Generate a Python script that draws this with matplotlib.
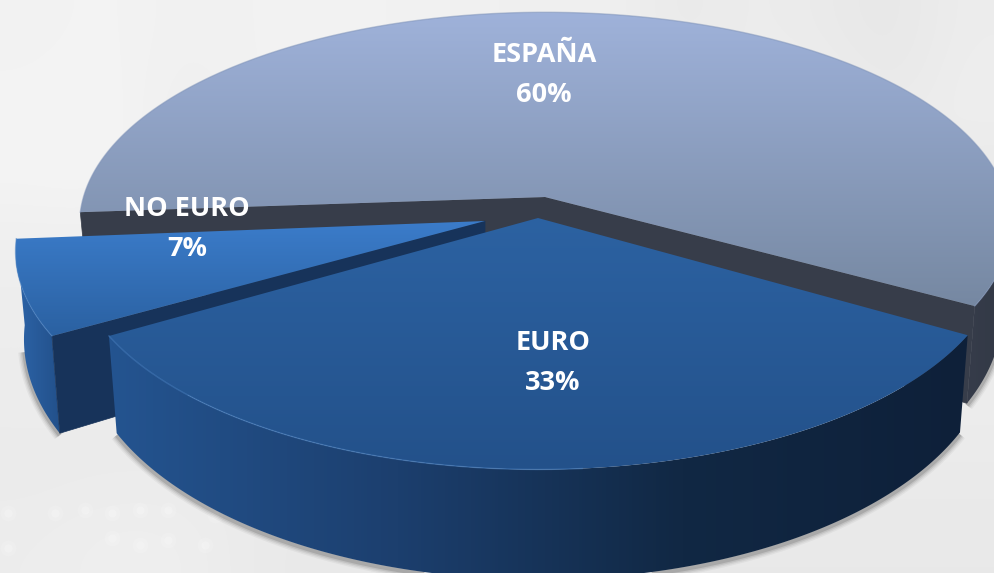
import numpy as np
import matplotlib
matplotlib.use('Agg')
import matplotlib.pyplot as plt
from matplotlib.colors import LinearSegmentedColormap
from matplotlib.patches import Polygon

# Values, in drawing order clockwise
labels = ['EURO', 'NO EURO', 'ESPAÑA']
values = [33, 7, 60]

# Slice apex in pixels (the pie is exploded), the rim centre can sit a bit off the apex
apex_x = [538, 485, 545]
apex_y = [218, 221, 197]
rim_dx = [0, -4, 0]
rim_dy = [0, -3, -5]
rim_squash = [1, 1, 0.973]
label_x = [553, 187, 544]
label_y = [363.5, 229.5, 74.5]

top_colors = [['#2c62a2', '#23518a'], ['#3b7cca', '#2a60a0'], ['#9fb2da', '#74869f']]
top_spans = [[218, 470], [221, 340], [12, 320]]
side_colors = [['#245490', '#1c3f6e', '#112844', '#0e2039'], ['#2d64a8', '#22508a'], ['#363c4a', '#313845']]
wall_colors = [None, '#17335a', '#373d4a']
rim_colors = ['#4a82c4', '#4a82c4', '#7f93b8']

# Washed out photo behind the chart, grey levels on a coarse grid
photo = np.array([
    [241, 243, 240, 241, 242, 241, 240, 238, 240, 232, 236, 234, 230, 236],
    [243, 244, 238, 241, 242, 241, 240, 240, 240, 238, 234, 240, 232, 238],
    [243, 244, 238, 240, 241, 241, 240, 240, 240, 240, 236, 232, 244, 232],
    [238, 238, 238, 240, 240, 240, 240, 240, 240, 240, 238, 236, 240, 236],
    [236, 236, 238, 238, 238, 238, 238, 238, 238, 238, 236, 236, 236, 236],
    [236, 236, 236, 236, 236, 236, 236, 236, 236, 236, 236, 236, 236, 236],
    [234, 234, 234, 234, 234, 234, 234, 234, 234, 234, 234, 234, 234, 234],
    [236, 238, 238, 234, 232, 232, 232, 232, 232, 232, 232, 232, 232, 232],
]) / 255
speck_x = [8, 55, 85, 112, 140, 168, 8, 112, 140, 168, 205, 215]
speck_y = [513, 513, 510, 513, 510, 510, 548, 538, 545, 540, 545, 515]

START_ANGLE = 30.5
RADIUS = 460
SQUASH = 213
TILT = 0.153


def project(theta, i):
    # Disc angle (degrees clockwise from the right) to pixel position, with perspective
    u = np.cos(np.radians(theta))
    v = np.sin(np.radians(theta))
    w = 1 - TILT * v
    return (apex_x[i] + rim_dx[i] + RADIUS * u / w,
            apex_y[i] + rim_dy[i] + SQUASH * rim_squash[i] * v / w)


def drop(x, y, v_like, ax0):
    # Lower rim of the slab, it gets a little narrower and deeper towards the front
    return ax0 + (x - ax0) * 0.982, y + 84 + 26 * v_like


def gradientFill(ax, points, colors, span, horizontal=False):
    cmap = LinearSegmentedColormap.from_list('g', colors)
    ramp = np.linspace(0, 1, 256)
    if horizontal:
        img = ax.imshow(ramp[np.newaxis, :], cmap=cmap, extent=[span[0], span[1], 573, 0],
                        aspect='auto', zorder=ax.zcount)
    else:
        img = ax.imshow(ramp[:, np.newaxis], cmap=cmap, extent=[0, 994, span[1], span[0]],
                        aspect='auto', zorder=ax.zcount)
    clip = Polygon(points, closed=True, transform=ax.transData, facecolor='none', edgecolor='none')
    ax.add_patch(clip)
    img.set_clip_path(clip)
    ax.zcount += 1


def softShadow(ax, x, y):
    for width, alpha in [(9, 0.05), (7, 0.07), (5, 0.1), (3, 0.16)]:
        ax.plot(x, y + 2, color='#303030', linewidth=width, alpha=alpha, zorder=ax.zcount,
                solid_capstyle='butt')
    ax.zcount += 1


fig = plt.figure(figsize=(9.94, 5.73), dpi=100)
ax = fig.add_axes([0, 0, 1, 1])
ax.zcount = 2
ax.imshow(photo, cmap='gray', vmin=0, vmax=1, extent=[0, 994, 573, 0], aspect='auto',
          interpolation='bicubic', zorder=1)
ax.scatter(speck_x, speck_y, s=130, color='#f6f6f6', alpha=0.25, linewidths=0, zorder=ax.zcount)
ax.scatter(speck_x, speck_y, s=35, color='#f8f8f8', alpha=0.35, linewidths=0, zorder=ax.zcount)
ax.zcount += 1
ax.set_xlim(0, 994)
ax.set_ylim(573, 0)
ax.axis('off')

# Angles of every slice follow from the values
total = sum(values)
edges = START_ANGLE + np.cumsum([0] + values) * 360 / total
slices = []
for i in range(len(values)):
    theta = np.linspace(edges[i], edges[i + 1], 300)
    x, y = project(theta, i)
    bx, by = drop(x, y, np.sin(np.radians(theta)), apex_x[i])
    slices.append((theta, x, y, bx, by))


def drawSlice(i):
    theta, x, y, bx, by = slices[i]
    ax0, ay0 = apex_x[i], apex_y[i]
    bax, bay = drop(ax0, ay0, 0, ax0)

    # Shadow and outer side, only the part that faces the viewer
    front = np.sin(np.radians(theta)) > -0.02
    if i == 2:
        front = front & (np.cos(np.radians(theta)) > 0)
    fx, fy, fbx, fby = x[front], y[front], bx[front], by[front]
    # The small slice has its rim ending on the side, the shadow must not stick out there
    shadow = fby > 350 if i == 1 else np.ones(len(fby), dtype=bool)
    softShadow(ax, fbx[shadow], fby[shadow])
    side = np.column_stack([np.r_[fx, fbx[::-1]], np.r_[fy, fby[::-1]]])
    gradientFill(ax, side, side_colors[i], [min(fx.min(), fbx.min()), max(fx.max(), fbx.max())], horizontal=True)

    # Cut faces running back to the apex
    if wall_colors[i] is not None:
        for e in ([0, -1] if i == 2 else [0]):
            wall = [(ax0, ay0), (x[e], y[e]), (bx[e], by[e]), (bax, bay)]
            ax.add_patch(Polygon(wall, closed=True, facecolor=wall_colors[i], edgecolor=wall_colors[i],
                                 linewidth=0.5, zorder=ax.zcount))
            ax.zcount += 1

    # Top of the slice
    top = np.column_stack([np.r_[ax0, x], np.r_[ay0, y]])
    gradientFill(ax, top, top_colors[i], top_spans[i])

    # Thin lit rim, on the big front slice it fades out to the right
    lit = np.ones(len(theta), dtype=bool)
    if i == 0:
        lit = theta > 85
    ax.plot(x[lit], y[lit], color=rim_colors[i], linewidth=1.0, alpha=0.5, zorder=ax.zcount)
    ax.zcount += 1


# Back slice first, the exploded ones sit in front of it
for i in [2, 1, 0]:
    drawSlice(i)

for i in range(len(values)):
    ax.text(label_x[i], label_y[i], f'{labels[i]}\n{values[i]}%', color='white', fontsize=19.5,
            fontweight='bold', family=['Open Sans', 'DejaVu Sans'], ha='center', va='center',
            linespacing=1.7, zorder=ax.zcount)

fig.savefig('out.png', dpi=100)
plt.close(fig)
